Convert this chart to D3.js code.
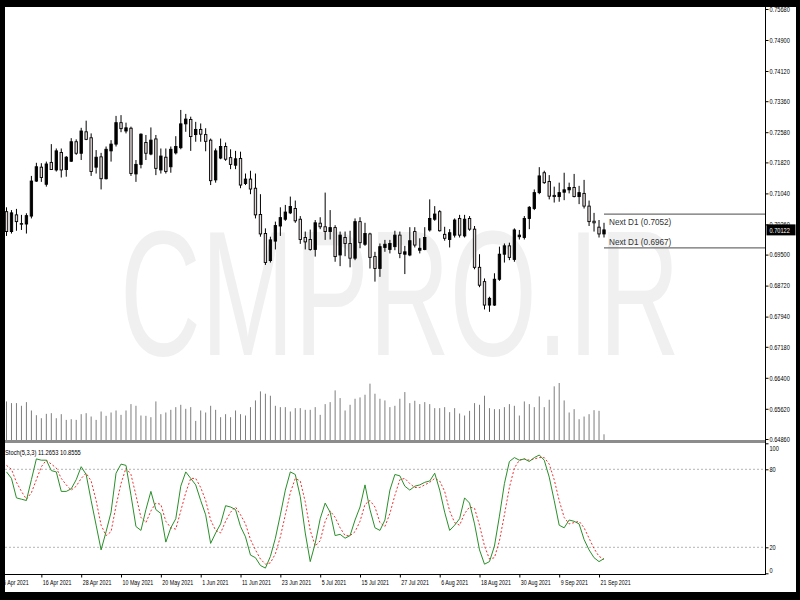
<!DOCTYPE html>
<html><head><meta charset="utf-8">
<script src="https://cdn.jsdelivr.net/npm/d3@7"></script>
<style>body{margin:0;background:#000}svg{display:block}</style>
</head><body>
<svg id="c" width="800" height="600"></svg>
<script>
const open=[0.7058,0.7008,0.7050,0.7028,0.7027,0.7047,0.7135,0.7170,0.7127,0.7182,
0.7163,0.7207,0.7164,0.7185,0.7234,0.7205,0.7259,0.7244,0.7170,0.7196,
0.7141,0.7211,0.7228,0.7282,0.7261,0.7268,0.7153,0.7177,0.7232,0.7203,
0.7241,0.7163,0.7195,0.7171,0.7206,0.7219,0.7279,0.7290,0.7252,0.7265,
0.7252,0.7238,0.7138,0.7193,0.7222,0.7194,0.7175,0.7192,0.7129,0.7140,
0.7117,0.7051,0.7003,0.6935,0.6984,0.7022,0.7039,0.7055,0.7066,0.7039,
0.6993,0.6988,0.6963,0.7029,0.7020,0.7008,0.7018,0.6949,0.6993,0.6978,
0.6941,0.7033,0.6976,0.7002,0.6945,0.6915,0.6968,0.6963,0.6970,0.6999,
0.6951,0.6949,0.7008,0.6961,0.6963,0.7012,0.7039,0.7058,0.7001,0.6988,
0.6999,0.7041,0.6997,0.7041,0.7014,0.6918,0.6882,0.6823,0.6823,0.6888,
0.6951,0.6972,0.6938,0.6995,0.6993,0.7041,0.7066,0.7106,0.7156,0.7134,
0.7099,0.7096,0.7107,0.7113,0.7119,0.7096,0.7104,0.7072,0.7034,0.7019,
0.7002];
const high=[0.7069,0.7062,0.7065,0.7050,0.7054,0.7148,0.7181,0.7180,0.7184,0.7228,
0.7217,0.7217,0.7198,0.7243,0.7240,0.7269,0.7287,0.7255,0.7213,0.7206,
0.7222,0.7238,0.7299,0.7301,0.7282,0.7272,0.7188,0.7255,0.7251,0.7270,
0.7251,0.7217,0.7217,0.7222,0.7248,0.7314,0.7304,0.7297,0.7284,0.7280,
0.7268,0.7242,0.7217,0.7242,0.7232,0.7215,0.7211,0.7209,0.7154,0.7161,
0.7154,0.7102,0.7016,0.6995,0.7033,0.7069,0.7075,0.7096,0.7086,0.7047,
0.7008,0.7013,0.7037,0.7044,0.7106,0.7062,0.7024,0.7008,0.7008,0.7010,
0.7041,0.7044,0.7030,0.7005,0.6957,0.6978,0.6987,0.6987,0.7010,0.7008,
0.6972,0.7019,0.7019,0.6991,0.7019,0.7089,0.7072,0.7062,0.7020,0.7014,
0.7041,0.7050,0.7050,0.7047,0.7022,0.6951,0.6890,0.6844,0.6903,0.6970,
0.6978,0.6980,0.7016,0.7012,0.7047,0.7072,0.7114,0.7170,0.7161,0.7150,
0.7121,0.7131,0.7156,0.7131,0.7153,0.7123,0.7138,0.7086,0.7055,0.7037,
0.7030];
const low=[0.6997,0.7003,0.7010,0.7012,0.7003,0.7041,0.7133,0.7133,0.7121,0.7163,
0.7159,0.7144,0.7146,0.7183,0.7201,0.7188,0.7238,0.7148,0.7154,0.7114,
0.7139,0.7184,0.7222,0.7258,0.7255,0.7148,0.7133,0.7167,0.7188,0.7200,
0.7150,0.7154,0.7154,0.7156,0.7202,0.7215,0.7259,0.7211,0.7234,0.7234,
0.7210,0.7125,0.7131,0.7190,0.7186,0.7165,0.7165,0.7117,0.7125,0.7102,
0.7041,0.6995,0.6924,0.6930,0.6963,0.6997,0.7035,0.7052,0.7030,0.6977,
0.6963,0.6960,0.6945,0.7014,0.6987,0.6988,0.6932,0.6921,0.6946,0.6918,
0.6936,0.6966,0.6972,0.6915,0.6882,0.6894,0.6957,0.6953,0.6961,0.6941,
0.6901,0.6946,0.6968,0.6953,0.6961,0.7008,0.7035,0.7008,0.6985,0.6968,
0.6993,0.6993,0.6993,0.7010,0.6913,0.6868,0.6812,0.6806,0.6821,0.6884,
0.6930,0.6936,0.6932,0.6988,0.6988,0.7014,0.7062,0.7102,0.7128,0.7089,
0.7081,0.7083,0.7087,0.7104,0.7094,0.7077,0.7066,0.7022,0.7008,0.6993,
0.6993];
const close=[0.7008,0.7055,0.7033,0.7027,0.7048,0.7135,0.7171,0.7144,0.7178,0.7164,
0.7211,0.7163,0.7195,0.7234,0.7205,0.7261,0.7240,0.7159,0.7195,0.7141,
0.7215,0.7228,0.7282,0.7267,0.7269,0.7154,0.7177,0.7253,0.7205,0.7238,
0.7167,0.7198,0.7159,0.7215,0.7222,0.7279,0.7291,0.7247,0.7265,0.7253,
0.7235,0.7136,0.7211,0.7222,0.7190,0.7177,0.7191,0.7125,0.7140,0.7115,
0.7050,0.7002,0.6930,0.6987,0.7023,0.7043,0.7057,0.7071,0.7035,0.6988,
0.6982,0.6963,0.7030,0.7020,0.7008,0.7018,0.6945,0.6999,0.6978,0.6941,
0.7033,0.6980,0.7003,0.6943,0.6915,0.6970,0.6976,0.6978,0.6999,0.6953,
0.6957,0.6985,0.6974,0.6966,0.6993,0.7041,0.7052,0.7010,0.6991,0.7005,
0.7037,0.6999,0.7039,0.7014,0.6918,0.6873,0.6823,0.6840,0.6888,0.6951,
0.6972,0.6943,0.7012,0.6999,0.7041,0.7069,0.7106,0.7148,0.7131,0.7097,
0.7096,0.7106,0.7113,0.7119,0.7096,0.7106,0.7072,0.7033,0.7030,0.7002,
0.70122];
const volume=[115000,110000,110000,102000,113000,88000,74000,65000,78000,80000,
65000,77000,60000,62000,60000,77000,80000,70000,60000,85000,
72000,82000,88000,75000,88000,107000,102000,73000,72000,68000,
115000,77000,82000,90000,98000,105000,93000,98000,57000,88000,
82000,102000,90000,68000,77000,68000,88000,77000,73000,98000,
118000,145000,138000,132000,102000,98000,98000,85000,95000,95000,
90000,90000,98000,75000,107000,113000,148000,125000,88000,105000,
123000,127000,135000,168000,138000,123000,118000,98000,102000,123000,
143000,110000,117000,107000,113000,107000,95000,95000,98000,83000,
95000,79000,73000,87000,110000,105000,132000,95000,92000,92000,
98000,107000,102000,73000,115000,107000,98000,130000,98000,120000,
160000,170000,118000,82000,92000,62000,70000,77000,89000,87000,
17000];
const stochMain=[78,73,58,57,56,72,88,87,87,79,78,63,63,65,72,82,76,56,37,18,
32,47,77,84,83,60,36,33,49,63,49,46,24,35,42,67,78,73,68,56,
45,23,31,38,52,51,49,36,28,14,12,6,4,13,27,45,64,78,76,59,
31,9,23,42,54,47,29,30,27,29,41,51,68,49,35,33,41,64,76,75,
67,64,67,68,70,71,77,64,47,33,37,42,58,54,38,18,7,9,21,44,
69,86,89,87,88,86,89,91,87,74,56,37,35,41,40,38,26,18,12,9,11.2653];
const stochSignal=[83,80,70,63,57,62,72,82,87,84,81,73,68,64,67,73,77,71,56,37,
29,32,52,69,81,76,60,43,39,48,54,53,40,35,34,48,62,73,73,66,
56,41,33,31,40,47,51,45,38,26,18,11,7,8,15,28,45,62,73,71,
55,33,21,25,40,48,43,35,29,29,32,40,53,56,51,39,36,46,60,72,
73,69,66,66,68,70,73,71,63,48,39,37,46,51,50,37,21,11,12,25,
45,66,81,87,88,87,88,89,89,84,72,56,43,38,39,40,35,27,19,13,10.8555];
const priceTicks=[0.75680,0.74900,0.74120,0.73360,0.72580,0.71820,0.71040,0.70260,0.69500,0.68720,0.67940,0.67180,0.66400,0.65620,0.64860];
const dateTickIndex=[-1,7,15,23,31,39,47,55,63,71,79,87,95,103,111,119];
const dateTickLabels=["6 Apr 2021","16 Apr 2021","28 Apr 2021","10 May 2021","20 May 2021","1 Jun 2021","11 Jun 2021","23 Jun 2021","5 Jul 2021","15 Jul 2021","27 Jul 2021","6 Aug 2021","18 Aug 2021","30 Aug 2021","9 Sep 2021","21 Sep 2021"];
const stochTicks=[100,80,20,0];
const stochLevels=[80,20];
const nextD1=[0.7052,0.6967];
const lastPrice=0.70122;
const stochTitle="Stoch(5,3,3) 11.2653 10.8555";
const watermark="CMPRO.IR";

const svg=d3.select('#c');
const FONT='"Liberation Sans",Arial,sans-serif';
const FS=7.4, SX=0.76, SXD=0.72;
const L=5, R=765.5;
svg.append('rect').attr('width',800).attr('height',600).attr('fill','#fff');

const x=d3.scaleLinear().domain([0,120]).range([6.5,604]);
const y=d3.scaleLinear().domain([0.6486,0.7490]).range([439,40]);
const yv=d3.scaleLinear().domain([0,170000]).range([440,383]);
const ys=d3.scaleLinear().domain([0,100]).range([573.3,443.3]);
const idx=d3.range(open.length);

// watermark
svg.append('text').attr('x',120).attr('y',355).text(watermark)
  .attr('font-family',FONT).attr('font-size',178).attr('fill','#f0f0f0')
  .attr('textLength',560).attr('lengthAdjust','spacingAndGlyphs');

// volumes
svg.append('g').selectAll('line').data(idx).join('line')
  .attr('x1',i=>x(i)).attr('x2',i=>x(i)).attr('y1',yv(0)).attr('y2',i=>yv(volume[i]))
  .attr('stroke','#7d7d7d').attr('stroke-width',1);

// candles
const cg=svg.append('g');
cg.selectAll('line').data(idx).join('line')
  .attr('x1',i=>x(i)).attr('x2',i=>x(i)).attr('y1',i=>y(high[i])).attr('y2',i=>y(low[i]))
  .attr('stroke','#000').attr('stroke-width',1);
cg.selectAll('rect').data(idx).join('rect')
  .attr('x',i=>x(i)-1.2).attr('width',2.4)
  .attr('y',i=>y(Math.max(open[i],close[i])))
  .attr('height',i=>Math.max(0.6,Math.abs(y(open[i])-y(close[i]))))
  .attr('fill',i=>close[i]>open[i]?'#000':'#e4dada')
  .attr('stroke','#000').attr('stroke-width',0.9);

// Next D1 lines
nextD1.forEach((v,k)=>{
  svg.append('line').attr('x1',x(120)).attr('x2',R).attr('y1',y(v)).attr('y2',y(v))
    .attr('stroke','#6e6e6e').attr('stroke-width',1.2);
  svg.append('text').attr('x',x(120)+5).attr('y',k===0?y(v)+10.5:y(v)-3)
    .text('Next D1 ('+v.toFixed(4)+')').attr('font-family',FONT)
    .attr('font-size',8.2).attr('fill','#333');
});

// separator between windows
svg.append('rect').attr('x',L).attr('y',440).attr('width',R-L).attr('height',3).attr('fill','#8c8c8c');

// stochastic levels
stochLevels.forEach(v=>{
  svg.append('line').attr('x1',L).attr('x2',R).attr('y1',ys(v)).attr('y2',ys(v))
    .attr('stroke','#b4b4b4').attr('stroke-dasharray','2,2').attr('stroke-width',1);
});
const lineGen=arr=>d3.line().x(i=>x(i)).y(i=>ys(arr[i]))(idx);
svg.append('path').attr('d',lineGen(stochSignal)).attr('fill','none')
  .attr('stroke','#f03030').attr('stroke-width',1).attr('stroke-dasharray','2,2');
svg.append('path').attr('d',lineGen(stochMain)).attr('fill','none')
  .attr('stroke','#2a8f2a').attr('stroke-width',1);
svg.append('text').attr('transform','translate(5,454.5) scale(0.78,1)').text(stochTitle)
  .attr('font-family',FONT).attr('font-size',FS).attr('fill','#000');

// window borders
svg.append('line').attr('x1',L).attr('x2',R).attr('y1',574.5).attr('y2',574.5).attr('stroke','#000');
svg.append('line').attr('x1',R).attr('x2',R).attr('y1',0).attr('y2',575).attr('stroke','#000');

// price axis
const pa=svg.append('g').attr('transform',`translate(${R},0)`)
  .call(d3.axisRight(y).tickValues(priceTicks).tickFormat(d3.format('.5f')).tickSize(3).tickSizeOuter(0));
pa.select('.domain').remove();
pa.selectAll('text').attr('font-family',FONT).attr('font-size',FS).attr('fill','#000')
  .attr('x',4/SX).attr('transform',`scale(${SX},1)`);
pa.selectAll('line').attr('stroke','#000');

// stoch axis
const sa=svg.append('g').attr('transform',`translate(${R},0)`)
  .call(d3.axisRight(ys).tickValues(stochTicks).tickFormat(d3.format('d')).tickSize(3).tickSizeOuter(0));
sa.select('.domain').remove();
sa.selectAll('text').attr('font-family',FONT).attr('font-size',FS).attr('fill','#000')
  .attr('x',4/SX).attr('transform',`scale(${SX},1)`)
  .attr('dy',d=>d===100?'0.95em':(d===0?'-0.05em':'0.32em'));
sa.selectAll('line').attr('stroke','#000');

// current price label
const cp=y(lastPrice);
svg.append('rect').attr('x',R+1).attr('y',cp-5.5).attr('width',29).attr('height',11).attr('fill','#000');
svg.append('text').attr('transform',`translate(${R+4},${cp+2.8}) scale(${SX},1)`).text(lastPrice.toFixed(5))
  .attr('font-family',FONT).attr('font-size',FS).attr('fill','#fff');

// date axis
const da=svg.append('g').attr('transform','translate(0,574.5)')
  .call(d3.axisBottom(x).tickValues(dateTickIndex).tickFormat((d,i)=>dateTickLabels[i]).tickSize(3).tickSizeOuter(0));
da.select('.domain').remove();
da.selectAll('text').attr('font-family',FONT).attr('font-size',FS).attr('fill','#000')
  .attr('text-anchor','start').attr('x',1/SXD).attr('y',5).attr('dy','0.71em')
  .attr('transform',`scale(${SXD},1)`);
da.selectAll('line').attr('stroke','#000');

// black frame
svg.append('rect').attr('x',0).attr('y',0).attr('width',800).attr('height',7).attr('fill','#000');
svg.append('rect').attr('x',0).attr('y',0).attr('width',5).attr('height',600).attr('fill','#000');
svg.append('rect').attr('x',0).attr('y',592).attr('width',800).attr('height',8).attr('fill','#000');
svg.append('rect').attr('x',796).attr('y',0).attr('width',4).attr('height',600).attr('fill','#000');
</script>
</body></html>
